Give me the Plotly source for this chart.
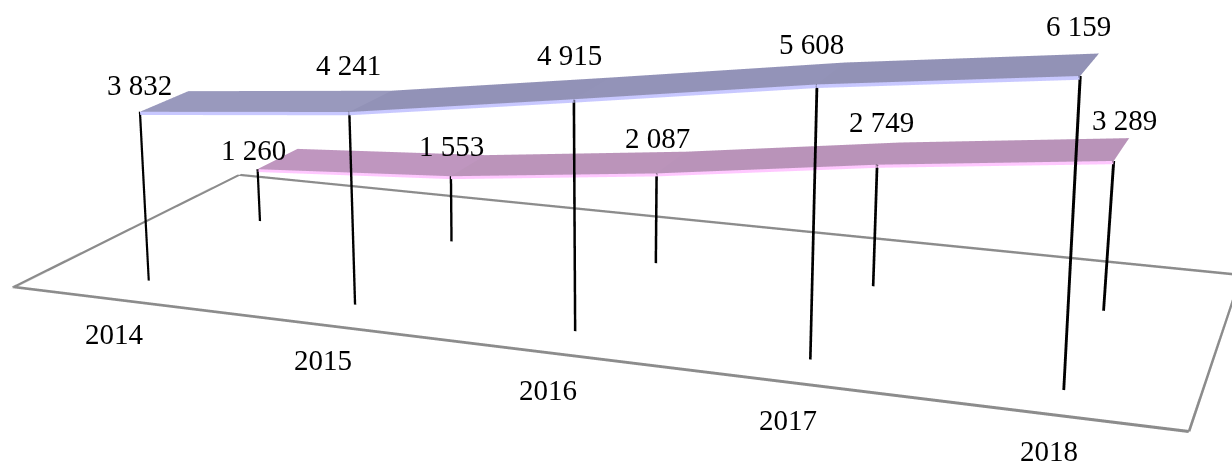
import numpy as np
import plotly.graph_objects as go

years = ["2014", "2015", "2016", "2017", "2018"]
series_front = [3832, 4241, 4915, 5608, 6159]
series_back = [1260, 1553, 2087, 2749, 3289]
Z_MIN, Z_MAX = -700, 7700
Y_MIN, Y_MAX = -0.4, 1.4

def fmt(v):
    return f"{v:,}".replace(",", " ")

# scene geometry (fitted perspective)
SX, SY, SZ = 1.3664, 0.5666, 0.3533
x0, dx = 0.1003, 0.1976
PAD = 0.2
xa, xb = -x0 / dx, (1 - x0) / dx
xr = [xa - PAD, xb + PAD]
ax_x = SX * (xr[1] - xr[0]) / (xb - xa)
ax_y = SY * (Y_MAX - Y_MIN)
ax_z = SZ * (Z_MAX - Z_MIN) / 7000
k = (1 / (ax_x * ax_y * ax_z)) ** (1 / 3)
eye = np.array([0.8634, -2.4982, 0.6065]) * k
yaw, pit, rol = -0.341, -0.5677, 0.0043
fw = np.array([np.sin(yaw) * np.cos(pit), np.cos(yaw) * np.cos(pit), np.sin(pit)])
r = np.cross(fw, [0, 0, 1]); r /= np.linalg.norm(r)
u = np.cross(r, fw)
up = -r * np.sin(rol) + u * np.cos(rol)
center = eye + fw
d_front, d_back, ribbon = 0.1583, 0.6532, 0.2
z_floor = -25
edge = 70
H = 1833

idx = list(range(len(years)))
light = dict(ambient=1, diffuse=0, specular=0, roughness=1, fresnel=0)

def ribbon_traces(vals, d, top_colors, band, xs_top):
    n = len(vals)
    xs = list(xs_top) * 3
    ys = [d] * n + [d + ribbon] * n + [d] * n
    zs = list(vals) + list(vals) + [v - edge for v in vals]
    it, jt, kt, ib, jb, kb, fc = [], [], [], [], [], [], []
    for a in range(n - 1):
        it += [a, a + 1]; jt += [a + 1, n + a + 1]; kt += [n + a, n + a]
        ib += [a, a + 1]; jb += [a + 1, 2 * n + a + 1]; kb += [2 * n + a, 2 * n + a]
        fc += [top_colors[a]] * 2
    return [
        go.Mesh3d(x=xs, y=ys, z=zs, i=it, j=jt, k=kt, facecolor=fc, flatshading=True, lighting=light, hoverinfo="skip"),
        go.Mesh3d(x=xs, y=ys, z=zs, i=ib, j=jb, k=kb, color=band, flatshading=True, lighting=light, hoverinfo="skip"),
    ]

def stems(vals, d, xs_top, xs_base, zs_base, hw):
    xs, ys, zs, i_, j_, k_ = [], [], [], [], [], []
    for t, b, zb, v in zip(xs_top, xs_base, zs_base, vals):
        m = len(xs)
        xs += [b - hw, b + hw, t + hw, t - hw]
        ys += [d] * 4
        zs += [zb, zb, v, v]
        i_ += [m, m]; j_ += [m + 1, m + 2]; k_ += [m + 2, m + 3]
    return go.Mesh3d(x=xs, y=ys, z=zs, i=i_, j=j_, k=k_, color="#000000", flatshading=True, lighting=light, hoverinfo="skip")

def floor_trace():
    FL = (xa - 0.014, 0.014)
    FR = (xb + 0.02, -0.005)
    BR = (xb - 0.02, 1.0)
    BL = (xa + 0.003, 1.0)
    edges = [(FL, FR, 0, 0.008), (BL, BR, 0, 0.0095), (FL, BL, 0.011, 0), (FR, BR, 0.005, 0)]
    xs, ys, i_, j_, k_ = [], [], [], [], []
    for P, Q, hx, hy in edges:
        m = len(xs)
        xs += [P[0] - hx, Q[0] - hx, Q[0] + hx, P[0] + hx]
        ys += [P[1] - hy, Q[1] - hy, Q[1] + hy, P[1] + hy]
        i_ += [m, m]; j_ += [m + 1, m + 2]; k_ += [m + 2, m + 3]
    return go.Mesh3d(x=xs, y=ys, z=[z_floor] * len(xs), i=i_, j=j_, k=k_, color="#8c8c8c",
                     flatshading=True, lighting=light, hoverinfo="skip")

front_base_off = [0.012, 0.003, -0.001, 0.0, 0.012]
back_base_off = [0.012, 0.002, 0.002, 0.007, 0.012]
front_top = [i - 0.0125 * (i - 2) for i in idx]
front_base = [i + front_base_off[i] + 0.0174 * (i - 2) for i in idx]
front_zb = [-48, -48, -68, -88, -108]
back_top = idx
back_base = [i + back_base_off[i] + 0.011 * (i - 2) for i in idx]
back_zb = [-48] * 5

fig = go.Figure(
    [floor_trace(),
     stems(series_back, d_back, back_top, back_base, back_zb, 0.006),
     stems(series_front, d_front, front_top, front_base, front_zb, 0.0055)]
    + ribbon_traces(series_back, d_back, ["#bf96bf", "#bb94ba", "#b993b9", "#b993b9"], "#ffc8ff", back_top)
    + ribbon_traces(series_front, d_front, ["#9999bd", "#9292b7", "#9393b8", "#9292b6"], "#c8c8ff", front_top))

font = dict(family="Liberation Serif", size=29, color="#000000")
ann = []
def a(x, y, z, t):
    ann.append(dict(x=x, y=y, z=z, text=t, showarrow=False, xanchor="center", yanchor="middle", font=font))

front_dx = [0.054, 0.037, 0.0, -0.026, -0.036]
front_dz = [-209, 187, 83, -22, 124]
back_dx = [-0.02, 0.0, -0.005, 0.0, 0.017]
back_dz = [-291, -47, 42, 176, 131]
year_dx = [0.076, 0.032, 0.009, -0.023, -0.038]
year_dy = [0.0, 0.0, -0.008, -0.008, 0.0]
for i in idx:
    a(i + (-0.0031) / dx + front_dx[i], d_front, series_front[i] + 793 + front_dz[i], fmt(series_front[i]))
    a(i + 0.0015 / dx + back_dx[i], d_back, series_back[i] + 766 + back_dz[i], fmt(series_back[i]))
    a(i + 0.0306 / dx + year_dx[i], -0.1851 + year_dy[i], z_floor, years[i])

hidden = dict(visible=False, showgrid=False, zeroline=False, showticklabels=False, showspikes=False)
fig.update_layout(
    width=1232, height=H, autosize=False, showlegend=False,
    margin=dict(l=0, r=0, t=0, b=0), paper_bgcolor="#ffffff",
    scene=dict(
        domain=dict(x=[0, 1], y=[0, 1]),
        xaxis=dict(range=xr, **hidden), yaxis=dict(range=[Y_MIN, Y_MAX], **hidden), zaxis=dict(range=[Z_MIN, Z_MAX], **hidden),
        aspectmode="manual", aspectratio=dict(x=ax_x * k, y=ax_y * k, z=ax_z * k),
        camera=dict(eye=dict(x=eye[0], y=eye[1], z=eye[2]),
                    center=dict(x=center[0], y=center[1], z=center[2]),
                    up=dict(x=up[0], y=up[1], z=up[2]),
                    projection=dict(type="perspective")),
        annotations=ann, bgcolor="#ffffff",
    ),
)
fig.write_html("out.html", config=dict(displayModeBar=False, responsive=False),
               post_script="document.documentElement.style.overflow='hidden';document.body.style.overflow='hidden';document.body.style.margin='0';document.body.style.height='100vh';")
